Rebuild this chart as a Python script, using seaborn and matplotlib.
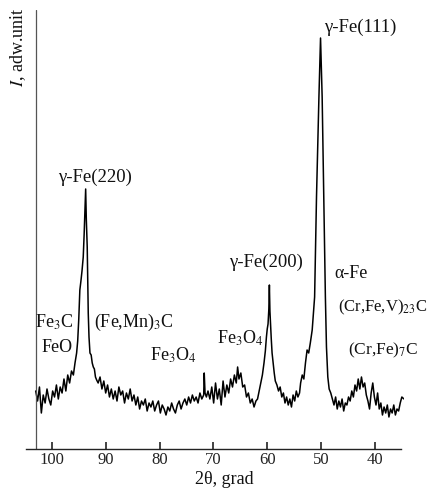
import matplotlib
matplotlib.use("Agg")
import matplotlib.pyplot as plt
import seaborn as sns
import pandas as pd

# 2theta (grad) and intensity (arb. units)
two_theta = [
    103.0, 102.65, 102.3, 101.95, 101.6, 101.25, 100.9, 100.55, 100.2, 99.85,
    99.5, 99.15, 98.8, 98.45, 98.1, 97.75, 97.4, 97.05, 96.7, 96.35, 96.0,
    95.7, 95.4, 95.2, 95.0, 94.8, 94.6, 94.4, 94.17, 94.0, 93.85, 93.72,
    93.6, 93.43, 93.3, 93.24, 93.1, 92.92, 92.7, 92.5, 92.3, 92.1, 91.9, 91.68,
    91.4, 91.05, 90.7, 90.35, 90.0, 89.65, 89.3, 88.95, 88.6, 88.25, 87.9,
    87.55, 87.2, 86.85, 86.5, 86.15, 85.8, 85.45, 85.1, 84.75, 84.4, 84.05,
    83.7, 83.35, 83.0, 82.65, 82.3, 81.95, 81.6, 81.25, 80.9, 80.55, 80.2,
    79.85, 79.5, 79.15, 78.8, 78.45, 78.1, 77.75, 77.4, 77.05, 76.7, 76.35,
    76.0, 75.65, 75.3, 74.95, 74.6, 74.25, 73.9, 73.55, 73.2, 72.85, 72.5,
    72.15, 71.8, 71.7, 71.55, 71.3,
    71.0, 70.65, 70.3, 69.95, 69.6, 69.25, 68.9, 68.55, 68.2, 67.85, 67.5,
    67.15, 66.8, 66.45, 66.1, 65.75, 65.5, 65.25, 64.9, 64.55, 64.2, 63.85,
    63.5, 63.15, 62.8, 62.45, 62.1, 61.8,
    61.5, 61.2, 60.9, 60.6, 60.35, 60.15, 60.0, 59.85, 59.7, 59.6, 59.5,
    59.4, 59.25, 59.1, 58.9, 58.7, 58.5, 58.2, 57.9, 57.6, 57.3, 57.0, 56.7,
    56.4, 56.1, 55.8, 55.5, 55.2, 54.9, 54.6, 54.3,
    54.0, 53.8, 53.5, 53.2, 52.9, 52.6, 52.3, 52.0, 51.65, 51.2, 50.85,
    50.4, 50.1, 49.8, 49.5, 49.2, 49.0, 48.75, 48.5, 48.2,
    47.9, 47.6, 47.3, 47.0, 46.7, 46.4, 46.1, 45.8, 45.5, 45.2, 44.9, 44.6,
    44.3, 44.0, 43.7, 43.4, 43.1, 42.8, 42.5, 42.2, 41.9, 41.6, 41.3, 41.0,
    40.7, 40.4, 40.1, 39.8, 39.5, 39.2, 38.9, 38.6, 38.3, 38.0, 37.7, 37.4,
    37.1, 36.8, 36.5, 36.2, 35.9, 35.6, 35.3, 35.0, 34.6,
]
intensity = [
    58, 48, 62, 36, 54, 46, 60, 50, 44, 58,
    52, 64, 50, 62, 56, 70, 58, 74, 66, 78, 74,
    86, 96, 108, 130, 159, 168, 178, 192, 215, 240, 260,
    230, 202, 160, 136, 112, 96, 94, 86, 82, 80, 72, 69,
    66, 72, 60, 68, 56, 64, 52, 60, 50, 58, 48,
    62, 54, 58, 46, 56, 50, 60, 48, 54, 44, 52,
    40, 48, 44, 50, 38, 46, 42, 48, 38, 44, 48,
    36, 44, 40, 34, 42, 38, 46, 40, 36, 44, 48,
    40, 46, 50, 44, 52, 46, 54, 48, 52, 46, 56,
    50, 54, 76, 56, 52,
    58, 50, 62, 46, 66, 50, 60, 44, 68, 52, 64,
    56, 70, 62, 74, 66, 82, 70, 76, 62, 64, 52,
    56, 46, 50, 42, 48, 50,
    58, 66, 74, 86, 98, 112, 120, 125, 140, 164, 138,
    126, 110, 96, 86, 76, 68, 64, 58, 62, 52, 56, 46,
    52, 44, 50, 42, 54, 48, 58, 52,
    56, 66, 74, 70, 86, 99, 96, 106, 119, 152, 252,
    352, 411, 352, 252, 152, 102, 72, 60, 56,
    50, 44, 52, 40, 48, 42, 50, 38, 46, 44, 52, 48,
    58, 52, 64, 58, 70, 60, 72, 62, 66, 54, 48, 40,
    56, 66, 52, 44, 56, 40, 46, 34, 42, 36, 44, 32,
    40, 36, 44, 34, 40, 38, 46, 52, 50,
]

# phase labels: (text, 2theta, intensity, fontsize)
labels = [
    ("γ-Fe(220)", 92.0, 272, 13.5),
    ("γ-Fe(111)", 42.8, 422, 13.5),
    ("γ-Fe(200)", 60.15, 187, 13.5),
    ("α-Fe", 44.5, 176, 13),
    (r"(Cr,Fe,V)$_{23}$C", 38.6, 142, 12),
    (r"(Cr,Fe)$_7$C", 38.4, 99, 12.5),
    (r"Fe$_3$O$_4$", 65.0, 111, 13),
    (r"Fe$_3$O$_4$", 77.5, 94, 13),
    (r"Fe$_3$C", 99.6, 127, 13),
    ("FeO", 99.1, 102, 13),
    (r"(Fe,Mn)$_3$C", 84.7, 127, 13),
]
xticks = [100, 90, 80, 70, 60, 50, 40]

sns.set_theme(style="white")
plt.rcParams["font.family"] = ["Liberation Serif", "DejaVu Serif"]
plt.rcParams["mathtext.fontset"] = "stix"

df = pd.DataFrame({"two_theta": two_theta, "I": intensity})

fig = plt.figure(figsize=(4.29, 4.97), dpi=100)
ax = fig.add_axes([26 / 429, 1 - 449 / 497, (404 - 26) / 429, (449 - 10) / 497])
sns.lineplot(data=df, x="two_theta", y="I", sort=False, estimator=None,
             color="black", linewidth=1.1, ax=ax)

ax.set_xlim(104.8, 34.6)
ax.set_ylim(0, 439)
ax.set_xticks(xticks)
ax.set_xticklabels([str(t) for t in xticks], fontsize=12)
ax.set_yticks([])
ax.set_xlabel("")
ax.set_ylabel("")
ax.tick_params(axis="x", direction="in", length=5, width=1.2, pad=2,
               colors="#222222", bottom=True)
for side in ["top", "right", "left"]:
    ax.spines[side].set_visible(False)
ax.spines["bottom"].set_bounds(104.8, 35.2)
ax.spines["bottom"].set_color("#222222")
ax.spines["bottom"].set_linewidth(1.0)
ax.axvline(103.0, color="#555555", linewidth=0.9)

for txt, x, y, fs in labels:
    ax.text(x, y, txt, ha="center", va="center", fontsize=fs, color="#111111")

fig.text(18 / 429, 1 - 47 / 497, r"$I$, adw.unit", rotation=90,
         ha="center", va="center", fontsize=13, color="#111111")
fig.text(224 / 429, 1 - 479 / 497, "2θ, grad", ha="center", va="center",
         fontsize=13, color="#111111")

fig.savefig("out.png", dpi=100, facecolor="white")
